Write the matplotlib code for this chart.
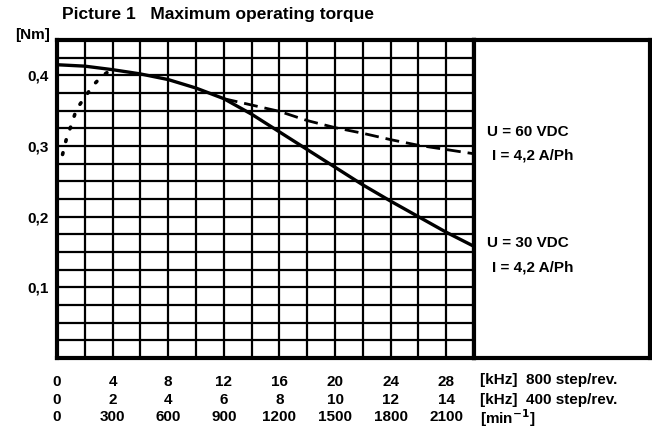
import numpy as np
import matplotlib.pyplot as plt

plt.rcParams['font.family'] = ['Liberation Sans', 'DejaVu Sans']

# x-axis scales (same positions, three unit systems)
freq_800 = [0, 4, 8, 12, 16, 20, 24, 28]        # kHz, 800 step/rev
freq_400 = [0, 2, 4, 6, 8, 10, 12, 14]          # kHz, 400 step/rev
speed = [0, 300, 600, 900, 1200, 1500, 1800, 2100]  # min^-1

# U = 30 VDC, I = 4,2 A/Ph (solid)
x_30v = [0, 2, 4, 6, 8, 10, 12, 14, 16, 18, 20, 22, 24, 26, 28, 30]
t_30v = [0.415, 0.413, 0.408, 0.402, 0.394, 0.382, 0.367, 0.345, 0.320,
         0.295, 0.270, 0.245, 0.222, 0.200, 0.178, 0.158]

# U = 60 VDC, I = 4,2 A/Ph (dashed, branches off the 30 V curve)
x_60v = [12, 14, 16, 18, 20, 22, 24, 26, 28, 30]
t_60v = [0.367, 0.358, 0.349, 0.336, 0.326, 0.318, 0.309, 0.301, 0.295, 0.289]

# low-speed start region (dotted)
x_start = [0.4, 0.7, 1.0, 1.4, 1.9, 2.6, 3.3, 4.0]
t_start = [0.288, 0.312, 0.328, 0.352, 0.366, 0.386, 0.400, 0.409]

W, H = 652, 432
fig = plt.figure(figsize=(W / 100, H / 100), dpi=100)
fig.patch.set_facecolor('white')

top, bot = 40, 358
ax = fig.add_axes([57 / W, 1 - bot / H, (474 - 57) / W, (bot - top) / H])
ax.set_xlim(0, 30)
ax.set_ylim(0, 0.45)

# grid every 2 kHz / 0.025 Nm
ax.set_xticks(np.arange(0, 31, 2), minor=True)
ax.set_yticks(np.arange(0, 0.451, 0.025), minor=True)
ax.grid(which='both', color='black', linewidth=1.6)
ax.set_axisbelow(True)

ax.set_xticks(freq_800)
ax.set_xticklabels([f'{a}\n{b}\n{c}' for a, b, c in zip(freq_800, freq_400, speed)],
                   fontsize=11, fontweight='bold', linespacing=1.35)
ax.set_yticks([0.1, 0.2, 0.3, 0.4])
ax.set_yticklabels(['0,1', '0,2', '0,3', '0,4'], fontsize=11, fontweight='bold')
ax.tick_params(which='both', length=0)
ax.tick_params(axis='x', pad=12)
ax.tick_params(axis='y', pad=6)
for s in ax.spines.values():
    s.set_linewidth(3)

ax.plot(x_30v, t_30v, color='black', linewidth=2.4)
ax.plot(x_60v, t_60v, color='black', linewidth=2.0, linestyle=(0, (5, 2.5)))
ax.plot(x_start, t_start, color='black', linewidth=2.6, linestyle=(0, (0.5, 3.2)),
        dash_capstyle='round')

# legend box on the right
ax2 = fig.add_axes([474 / W, 1 - bot / H, (650 - 474) / W, (bot - top) / H])
ax2.set_xticks([])
ax2.set_yticks([])
for s in ax2.spines.values():
    s.set_linewidth(3)

txt = dict(fontsize=11, fontweight='bold', va='center', ha='left')
fig.text(487 / W, 1 - 132 / H, 'U = 60 VDC', **txt)
fig.text(492 / W, 1 - 155 / H, 'I = 4,2 A/Ph', **txt)
fig.text(487 / W, 1 - 243 / H, 'U = 30 VDC', **txt)
fig.text(492 / W, 1 - 267 / H, 'I = 4,2 A/Ph', **txt)

fig.text(62 / W, 1 - 14 / H, 'Picture 1   Maximum operating torque',
         fontsize=12.5, fontweight='bold', va='center', ha='left')
fig.text(50 / W, 1 - 35 / H, '[Nm]', fontsize=11, fontweight='bold', va='center', ha='right')

fig.text(480 / W, 1 - 380 / H, '[kHz]  800 step/rev.', **txt)
fig.text(480 / W, 1 - 400 / H, '[kHz]  400 step/rev.', **txt)
fig.text(480 / W, 1 - 418 / H, r'[min$^{\mathbf{-1}}$]', **txt)

fig.savefig('out.png', dpi=100)
